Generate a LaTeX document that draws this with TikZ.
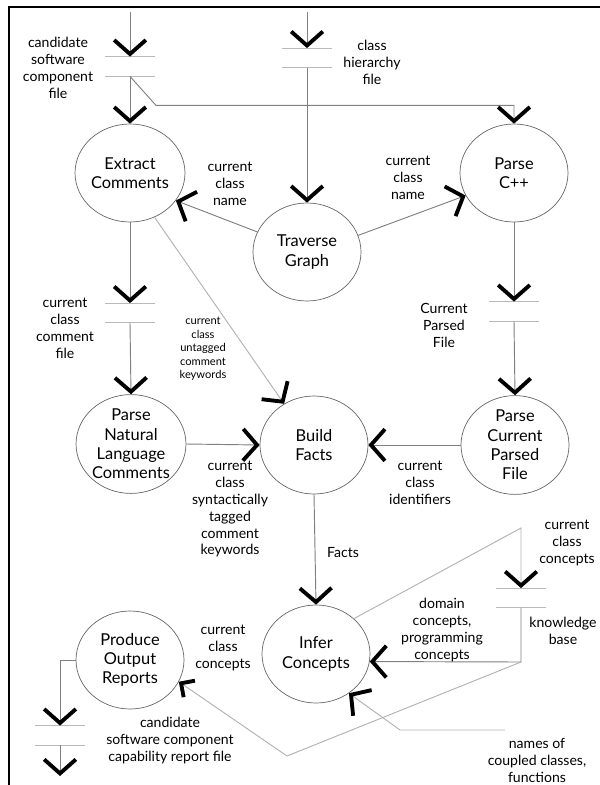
\documentclass[tikz,border=0pt]{standalone}
\usepackage{fontspec}
\setmainfont{Lato}
\usetikzlibrary{arrows.meta,shapes,positioning}

\begin{document}
\begin{tikzpicture}[x=0.03cm,y=-0.03cm,
proc/.style={ellipse, draw=gray!80!black, line width=0.6pt,
    minimum width=3.24cm, minimum height=2.94cm, inner sep=0pt,
    align=center, font=\fontsize{14}{16.5}\selectfont},
lbl/.style={align=center, inner sep=0pt, font=\fontsize{12}{14.5}\selectfont},
smalllbl/.style={lbl, font=\fontsize{9.5}{11.5}\selectfont},
storeline/.style={draw=gray!55, line width=0.8pt},
store/.style={minimum width=1.47cm, minimum height=0.58cm, inner sep=0pt,
    append after command={(\tikzlastnode.north west) edge[storeline] (\tikzlastnode.north east)
    (\tikzlastnode.south west) edge[storeline] (\tikzlastnode.south east)}},
flow/.style={draw=gray, line width=0.8pt,
    -{Straight Barb[length=0.42cm, width=0.95cm, line width=3.3pt, color=black]}},
smallflow/.style={flow,
    -{Straight Barb[length=0.3cm, width=0.6cm, line width=3.3pt, color=black]}},
faint/.style={draw=gray!60}]
\useasboundingbox (0,0) rectangle (600,785);
\draw[line width=2pt] (9,785) -- (9,7) -- (600,7);

\node[proc] (ec) at (130,173) {Extract\\Comments};
\node[proc] (tg) at (307,252) {Traverse\\Graph};
\node[proc] (pc) at (514,173) {Parse\\C++};
\node[proc] (pnl) at (131,444) {Parse\\Natural\\Language\\Comments};
\node[proc] (bf) at (314,445) {Build\\Facts};
\node[proc] (pcpf) at (515,445) {Parse\\Current\\Parsed\\File};
\node[proc] (por) at (130,660) {Produce\\Output\\Reports};
\node[proc] (ic) at (316,654) {Infer\\Concepts};

\node[store] (s1) at (130,66.5) {};
\node[store] (s2) at (307,58) {};
\node[store] (s3) at (130,313) {};
\node[store] (s4) at (514,311.5) {};
\node[store] (s5) at (521,598) {};
\node[store] (s6) at (60,735.5) {};

\coordinate (in1) at (130,12);
\coordinate (in2) at (307,12);
\coordinate (out) at (60,776);
\coordinate (kbup) at (521,528);
\coordinate (kbdn) at (521,662);
\coordinate (kbbend) at (287,756);
\coordinate (ncc) at (505,730);

\draw[flow] (in1) -- (s1.north);
\draw[flow] (s1.south) -- (ec.north);
\draw[flow] (s1.south) -- ++(26,29) -| (pc.north);
\draw[flow] (in2) -- (s2.north);
\draw[flow] (s2.south) -- (tg.north);
\draw[flow] (tg.158) -- (ec.-31);
\draw[flow] (tg.18) -- (pc.205);
\draw[flow] (ec.south) -- (s3.north);
\draw[flow] (s3.south) -- (pnl.north);
\draw[flow, faint] (ec.-61) -- (bf.126);
\draw[flow] (pc.south) -- (s4.north);
\draw[flow] (s4.south) -- (pcpf.north);
\draw[flow] (pnl.east) -- (bf.west);
\draw[flow] (pcpf.west) -- (bf.east);
\draw[flow] (bf.south) -- (ic.north);
\draw[flow, faint] (ic.43) -- (kbup) -- (s5.north);
\draw[flow] (s5.south) -- (kbdn) -- (ic.-8);
\draw[smallflow, faint] (kbdn) -- (kbbend) -- (por.-24);
\draw[flow, faint] (ncc) -- ++(-105,0) -- (ic.-50);
\draw[flow] (por.west) -| (s6.north);
\draw[flow] (s6.south) -- (out);

\node[lbl] (l1) at (58,68) {candidate\\software\\component\\file};
\node[lbl] (l2) at (372,62) {class\\hierarchy\\file};
\node[lbl] (l3) at (230,184) {current\\class\\name};
\node[lbl] (l4) at (408,178) {current\\class\\name};
\node[lbl] (l5) at (65,328) {current\\class\\comment\\file};
\node[smalllbl] (l6) at (203,349) {current\\class\\untagged\\comment\\keywords};
\node[lbl] (l7) at (444,325) {Current\\Parsed\\File};
\node[lbl] (l8) at (230,509) {current\\class\\syntactically\\tagged\\comment\\keywords};
\node[lbl] (l9) at (420,483) {current\\class\\identifiers};
\node[lbl] (l10) at (343,553) {Facts};
\node[lbl] (l11) at (567,543) {current\\class\\concepts};
\node[lbl] (l12) at (442,630) {domain\\concepts,\\programming\\concepts};
\node[lbl] (l13) at (563,631) {knowledge\\base};
\node[lbl] (l14) at (223,648) {current\\class\\concepts};
\node[lbl] (l15) at (170,741) {candidate\\software component\\capability report file};
\node[lbl] (l16) at (537,760) {names of\\coupled classes,\\functions};
\end{tikzpicture}
\end{document}
